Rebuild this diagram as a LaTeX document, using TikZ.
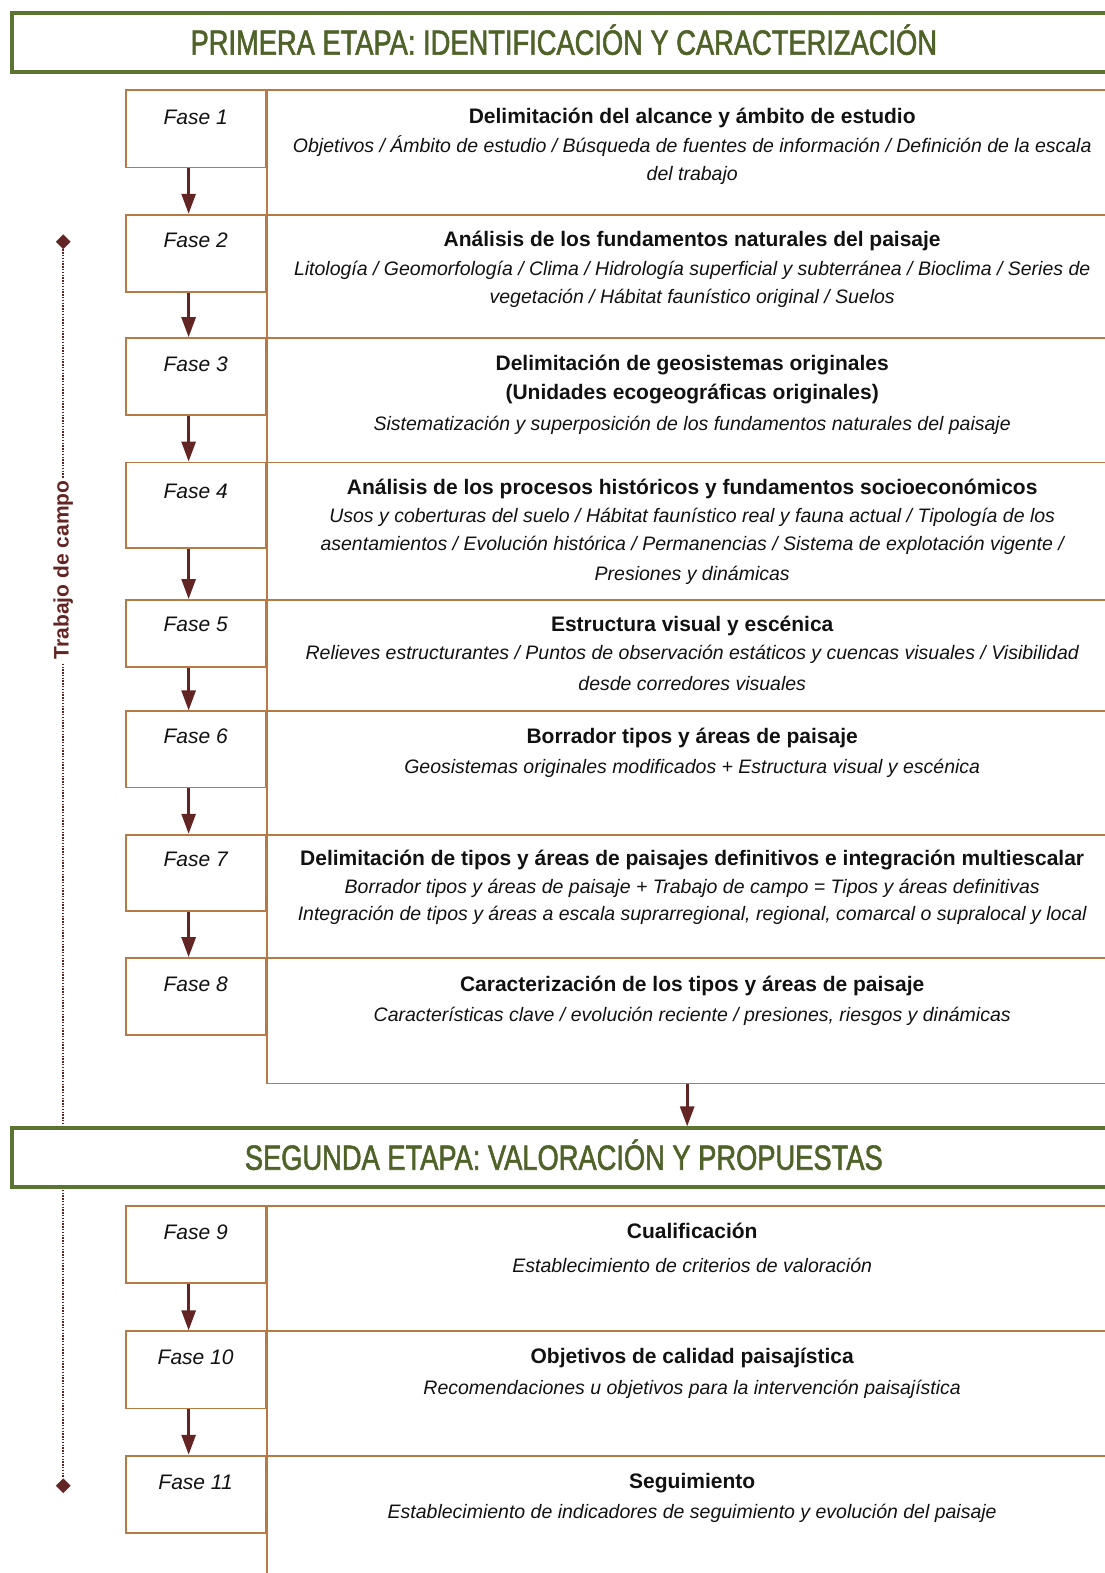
\documentclass[tikz,border=0pt]{standalone}
\usepackage{fontspec}
\setmainfont{Liberation Sans}
\newfontfamily\narrowfont[FakeStretch=0.78,FakeBold=1.6]{Liberation Sans}
\usetikzlibrary{arrows.meta,shapes.geometric}
\definecolor{etapagreen}{HTML}{5C7431}
\definecolor{etapatext}{HTML}{4F6228}
\definecolor{boxbrown}{HTML}{B87A45}
\definecolor{arrowred}{HTML}{632523}
\definecolor{txt}{HTML}{111111}
\tikzset{
  etapabox/.style={draw=etapagreen, line width=3.5pt, fill=white, inner sep=0, minimum width=1110pt, minimum height=59pt},
  etapatxt/.style={font=\narrowfont\fontsize{35}{40}\selectfont, text=etapatext, anchor=base, inner sep=0},
  fasebox/.style={draw=boxbrown, line width=1.8pt, fill=white, inner sep=0, minimum width=140pt},
  rbox/.style={draw=boxbrown, line width=1.8pt, inner sep=0, minimum width=855pt},
  ttl/.style={font=\fontsize{21}{25}\selectfont\bfseries, text=txt, anchor=base, inner sep=0},
  sub/.style={font=\fontsize{19.5}{28}\selectfont\itshape, text=txt, anchor=base, inner sep=0},
  fl/.style={font=\fontsize{21}{25}\selectfont\itshape, text=txt, anchor=base, inner sep=0},
  arr/.style={draw=arrowred, line width=2.8pt, -{Triangle[width=14pt,length=20pt]}, arrowred},
  dia/.style={diamond, fill=arrowred, inner sep=0, minimum width=15pt, minimum height=15pt},
}
\begin{document}
\begin{tikzpicture}[x=1.0036pt,y=-1.0036pt]
\useasboundingbox (0,0) rectangle (1101,1568);
% field-work line
\node[dia] (dtop) at (63,241) {};
\node[dia] (dbot) at (63,1481) {};
\draw[arrowred, line width=2.4pt, dash pattern=on 1.4pt off 1.4pt] (dtop) -- (dbot);
\node[font=\fontsize{21}{25}\selectfont\bfseries, text=arrowred, fill=white, rotate=90, inner xsep=3pt, inner ysep=2pt] (tc) at (63,568) {Trabajo de campo};
% stage boxes
\node[etapabox] (e1) at (565,42.5) {};
\node[etapatxt] (e1t) at (562,54.5) {PRIMERA ETAPA: IDENTIFICACIÓN Y CARACTERIZACIÓN};
\node[etapabox] (e2) at (565,1154) {};
\node[etapatxt] (e2t) at (562,1166) {SEGUNDA ETAPA: VALORACIÓN Y PROPUESTAS};
% phase boxes
\foreach \i/\tp/\fb/\nt in {1/90/167/214, 2/214/291/337, 3/337/414/461, 4/461/546/598, 5/598/665/709, 6/709/785/832, 7/832/908/955, 8/955/1032/1080, 9/1202/1279/1327, 10/1327/1404/1451, 11/1451/1528/1600}{
  \node[rbox, minimum height={(\nt-\tp)*1.0036pt}] (r\i) at (692.5,{(\tp+\nt)/2}) {};
  \node[fasebox, minimum height={(\fb-\tp)*1.0036pt}] (f\i) at (195,{(\tp+\fb)/2}) {};
}
\foreach \i/\y in {1/124, 2/247, 3/370, 4/497, 5/629, 6/741, 7/864, 8/988, 9/1236, 10/1360, 11/1485}{
  \node[fl] (l\i) at (195,\y) {Fase \i};
}
% arrows
\foreach \i/\j in {1/2, 2/3, 3/4, 4/5, 5/6, 6/7, 7/8, 9/10, 10/11}{
  \draw[arr] ([xshift=-7pt]f\i.south) -- ([xshift=-7pt]f\j.north);
}
\draw[arr] (r8.south -| e2t) ++(123,0) coordinate (a8) -- (a8 |- e2.north);
% texts
\node[ttl] (t1) at (690,123) {Delimitación del alcance y ámbito de estudio};
\node[sub] (s1a) at (690,152) {Objetivos / Ámbito de estudio / Búsqueda de fuentes de información / Definición de la escala};
\node[sub] (s1b) at (690,180) {del trabajo};
\node[ttl] (t2) at (690,246) {Análisis de los fundamentos naturales del paisaje};
\node[sub] (s2a) at (690,275) {Litología / Geomorfología / Clima / Hidrología superficial y subterránea / Bioclima / Series de};
\node[sub] (s2b) at (690,303) {vegetación / Hábitat faunístico original / Suelos};
\node[ttl] (t3a) at (690,369) {Delimitación de geosistemas originales};
\node[ttl] (t3b) at (690,398) {(Unidades ecogeográficas originales)};
\node[sub] (s3a) at (690,429) {Sistematización y superposición de los fundamentos naturales del paisaje};
\node[ttl] (t4) at (690,493) {Análisis de los procesos históricos y fundamentos socioeconómicos};
\node[sub] (s4a) at (690,521) {Usos y coberturas del suelo / Hábitat faunístico real y fauna actual / Tipología de los};
\node[sub] (s4b) at (690,549) {asentamientos / Evolución histórica / Permanencias / Sistema de explotación vigente /};
\node[sub] (s4c) at (690,579) {Presiones y dinámicas};
\node[ttl] (t5) at (690,629) {Estructura visual y escénica};
\node[sub] (s5a) at (690,657) {Relieves estructurantes / Puntos de observación estáticos y cuencas visuales / Visibilidad};
\node[sub] (s5b) at (690,688) {desde corredores visuales};
\node[ttl] (t6) at (690,741) {Borrador tipos y áreas de paisaje};
\node[sub] (s6a) at (690,771) {Geosistemas originales modificados + Estructura visual y escénica};
\node[ttl] (t7) at (690,863) {Delimitación de tipos y áreas de paisajes definitivos e integración multiescalar};
\node[sub] (s7a) at (690,891) {Borrador tipos y áreas de paisaje + Trabajo de campo = Tipos y áreas definitivas};
\node[sub] (s7b) at (690,918) {Integración de tipos y áreas a escala suprarregional, regional, comarcal o supralocal y local};
\node[ttl] (t8) at (690,988) {Caracterización de los tipos y áreas de paisaje};
\node[sub] (s8a) at (690,1018) {Características clave / evolución reciente / presiones, riesgos y dinámicas};
\node[ttl] (t9) at (690,1235) {Cualificación};
\node[sub] (s9a) at (690,1268) {Establecimiento de criterios de valoración};
\node[ttl] (t10) at (690,1359) {Objetivos de calidad paisajística};
\node[sub] (s10a) at (690,1390) {Recomendaciones u objetivos para la intervención paisajística};
\node[ttl] (t11) at (690,1484) {Seguimiento};
\node[sub] (s11a) at (690,1514) {Establecimiento de indicadores de seguimiento y evolución del paisaje};
\end{tikzpicture}
\end{document}
